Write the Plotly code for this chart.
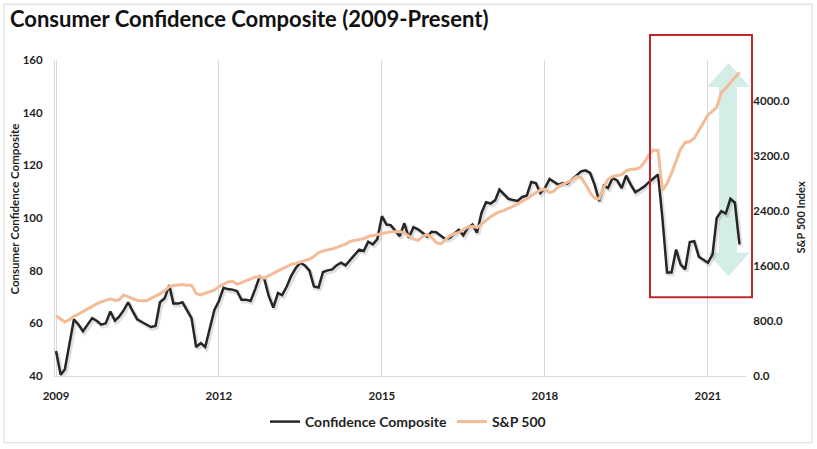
import plotly.graph_objects as go
import pandas as pd

# ---------------- data ----------------
composite = [
    49.5, 40.5, 42.5, 52, 61.5, 59.5, 57, 59.5, 62, 61, 59.5, 60,            # 2009
    64.5, 61, 62.5, 65, 68, 64.5, 61.5, 60.5, 59.5, 58.6, 59, 68,            # 2010
    69.5, 74.5, 67.5, 67.5, 68, 65, 62, 51, 52.5, 51, 58, 65,                # 2011
    68.5, 73.5, 73, 72.8, 72.3, 69, 69, 68.5, 73, 77.8, 77, 70.4,            # 2012
    66, 71.5, 70.7, 74, 78, 81, 83, 82, 80, 74, 73.6, 79.5,                  # 2013
    80.1, 80.5, 82, 83, 82, 84, 86, 88, 87.5, 91, 90, 92,                    # 2014
    100.7, 97.5, 97.3, 95, 93.1, 98, 92.5, 96.5, 95.7, 94.4, 93, 94.8,       # 2015
    94.6, 93.3, 92, 92.5, 93.8, 95.5, 93.4, 96.3, 97.5, 94.4, 102, 106,      # 2016
    105.5, 106.8, 110.8, 108.9, 107.3, 106.8, 106.5, 108, 108.5, 113.7, 113.3, 109.5,  # 2017
    111.4, 114.8, 113.9, 112.7, 113.3, 113, 114.6, 116, 117.7, 118.1, 117.1, 112.7,    # 2018
    106.4, 112.3, 111.4, 115.2, 114.3, 111.4, 116.1, 112.7, 109.8, 110.8, 112, 113.6,  # 2019
    115, 116.5, 100, 79.3, 79.3, 88, 82.4, 80.5, 90.9, 91.2, 85.3, 84.3,     # 2020
    83, 86.2, 100, 102.6, 101.7, 107.3, 105.8, 90,                           # 2021
]

sp500 = [
    876, 830, 785, 820, 870, 900, 940, 975, 1020, 1050, 1080, 1100,          # 2009
    1125, 1100, 1110, 1180, 1150, 1120, 1100, 1094, 1094, 1130, 1160, 1195,  # 2010
    1240, 1300, 1318, 1322, 1330, 1320, 1320, 1200, 1180, 1205, 1225, 1250,  # 2011
    1300, 1337, 1370, 1380, 1337, 1360, 1385, 1409, 1440, 1445, 1425, 1460,  # 2012
    1500, 1530, 1560, 1590, 1625, 1640, 1660, 1685, 1700, 1740, 1797, 1820,  # 2013
    1830, 1850, 1870, 1893, 1920, 1960, 1975, 1985, 2000, 2030, 2045, 2060,  # 2014
    2075, 2090, 2100, 2100, 2102, 2080, 2040, 1995, 1975, 2030, 2060, 2020,  # 2015
    1940, 1925, 1980, 2040, 2070, 2090, 2130, 2170, 2180, 2160, 2210, 2270,  # 2016
    2320, 2360, 2390, 2410, 2440, 2475, 2500, 2545, 2580, 2620, 2670, 2705,  # 2017
    2720, 2670, 2690, 2760, 2790, 2820, 2850, 2900, 2890, 2790, 2670, 2590,  # 2018
    2580, 2750, 2860, 2905, 2921, 2930, 2985, 3008, 3010, 3033, 3110, 3220,  # 2019
    3290, 3280, 2700, 2800, 2950, 3130, 3300, 3400, 3410, 3460, 3580, 3700,  # 2020
    3800, 3855, 3910, 4130, 4190, 4270, 4350, 4420,                          # 2021
]

dates = pd.date_range("2009-01-01", periods=len(composite), freq="MS")

year_ticks = ["2009-01-01", "2012-01-01", "2015-01-01", "2018-01-01", "2021-01-01"]
year_labels = ["2009", "2012", "2015", "2018", "2021"]
left_ticks = [40, 60, 80, 100, 120, 140, 160]
right_ticks = [0, 800, 1600, 2400, 3200, 4000]

# ---------------- layout geometry ----------------
W, H = 817, 449
ML, MR, MT, MB = 55, 71, 60, 72
PW = W - ML - MR
PH = H - MT - MB


def px(x):
    return (x - ML) / PW


def py(y):
    return (H - MB - y) / PH


FONT = "Lato"
TXT = "#1f1f1f"
GRID = "#d9d9d9"

fig = go.Figure()

# soft drop shadow of the composite line (on slightly shifted, hidden axes)
fig.add_trace(go.Scatter(
    x=dates, y=composite, xaxis="x", yaxis="y", mode="lines",
    line=dict(color="rgba(0,0,0,0.12)", width=4),
    hoverinfo="skip", showlegend=False))

fig.add_trace(go.Scatter(
    x=dates, y=sp500, xaxis="x2", yaxis="y3", mode="lines",
    name="S&P 500", legendrank=2,
    line=dict(color="#F3BC98", width=3)))

fig.add_trace(go.Scatter(
    x=dates, y=composite, xaxis="x2", yaxis="y2", mode="lines",
    name="Confidence Composite", legendrank=1,
    line=dict(color="#262626", width=2.5)))

tickfont = dict(family=FONT, size=11.5, color=TXT, weight="bold")

# arrow path (paper coords)
ax_c, ax_sl, ax_sr, ax_hl, ax_hr = 728.5, 719, 737, 707, 750
ay_tip, ay_hb, ay_bb, ay_btip = 63, 87, 253, 277
pts = [(ax_c, ay_tip), (ax_hr, ay_hb), (ax_sr, ay_hb), (ax_sr, ay_bb), (ax_hr, ay_bb),
       (ax_c, ay_btip), (ax_hl, ay_bb), (ax_sl, ay_bb), (ax_sl, ay_hb), (ax_hl, ay_hb)]
arrow_path = "M " + " L ".join(f"{px(a):.5f},{py(b):.5f}" for a, b in pts) + " Z"

fig.update_layout(
    width=W, height=H,
    margin=dict(l=ML, r=MR, t=MT, b=MB, pad=0),
    paper_bgcolor="white", plot_bgcolor="white",
    showlegend=True,
    title=dict(text="Consumer Confidence Composite (2009-Present)",
               x=10 / W, xanchor="left", xref="container",
               y=1 - 19 / H, yanchor="middle", yref="container",
               font=dict(family=FONT, size=22, color="#111111", weight="bold")),
    xaxis=dict(visible=False, range=["2008-12-15", "2021-09-05"], domain=[0, 1]),
    yaxis=dict(visible=False, range=[40.7, 160.7], domain=[0, 1]),
    xaxis2=dict(overlaying="x", anchor="y2", side="bottom",
                range=["2008-12-25", "2021-09-14"],
                tickvals=year_ticks, ticktext=year_labels,
                showgrid=True, gridcolor=GRID, gridwidth=1,
                showline=True, linecolor=GRID, linewidth=1,
                ticks="outside", ticklen=9, tickcolor="rgba(0,0,0,0)",
                tickfont=tickfont, zeroline=False),
    yaxis2=dict(overlaying="y", anchor="x2", side="left",
                range=[40, 160], tickvals=left_ticks,
                showgrid=False, showline=True, linecolor=GRID, linewidth=1,
                ticks="outside", ticklen=9, tickcolor="rgba(0,0,0,0)",
                tickfont=tickfont, zeroline=False),
    yaxis3=dict(overlaying="y", anchor="x2", side="right",
                range=[0, 4600], tickvals=right_ticks, tickformat=".1f",
                showgrid=False, showline=False,
                ticks="outside", ticklen=4, tickcolor="rgba(0,0,0,0)",
                tickfont=tickfont, zeroline=False),
    legend=dict(orientation="h", x=px(408), xanchor="center",
                y=py(422), yanchor="middle",
                font=dict(family=FONT, size=14, color=TXT, weight="bold"),
                bgcolor="rgba(0,0,0,0)", itemwidth=30, tracegroupgap=0),
    annotations=[
        dict(text="Consumer Confidence Composite", xref="paper", yref="paper",
             x=px(15), y=py(210), showarrow=False, textangle=-90,
             xanchor="center", yanchor="middle",
             font=dict(family=FONT, size=11.5, color=TXT, weight="bold")),
        dict(text="S&P 500 Index", xref="paper", yref="paper",
             x=px(801), y=py(218), showarrow=False, textangle=-90,
             xanchor="center", yanchor="middle",
             font=dict(family=FONT, size=11, color=TXT, weight="bold")),
    ],
    shapes=[
        dict(type="rect", xref="paper", yref="paper",
             x0=px(4), x1=px(812), y0=py(444), y1=py(4),
             line=dict(color="#d9d9d9", width=1), fillcolor="rgba(0,0,0,0)",
             layer="below"),
        dict(type="path", xref="paper", yref="paper", path=arrow_path,
             fillcolor="#d5ede7", line=dict(width=0), layer="below"),
        dict(type="rect", xref="paper", yref="paper",
             x0=px(650), x1=px(752), y0=py(298), y1=py(35),
             line=dict(color="#C0272D", width=2), fillcolor="rgba(0,0,0,0)",
             layer="above"),
    ],
)

fig.write_html("out.html")
